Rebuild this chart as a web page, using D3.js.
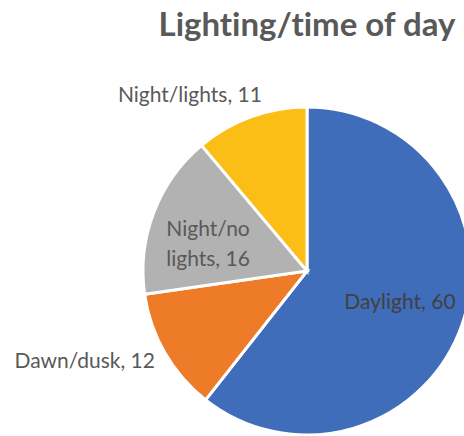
<!DOCTYPE html>
<html>
<head>
<meta charset="utf-8">
<script src="https://cdn.jsdelivr.net/npm/d3@7"></script>
<style>
  html, body { margin: 0; padding: 0; background: #fff; }
  svg { display: block; }
  text { font-variant-ligatures: none; font-feature-settings: "liga" 0, "clig" 0; }
</style>
</head>
<body>
<svg id="chart" width="464" height="436"></svg>
<script>
// chart data
const categories = ['Daylight', 'Dawn/dusk', 'Night/no lights', 'Night/lights'];
const values = [60, 12, 16, 11];
const colors = ['#3F6DBA', '#EE7B28', '#B2B2B2', '#FBBE17'];
const title = 'Lighting/time of day';

const svg = d3.select('#chart');
const width = +svg.attr('width');
const height = +svg.attr('height');

const cx = 307, cy = 271;
const radius = 164;
const font = "Lato, 'Open Sans', sans-serif";

svg.append('text')
  .attr('x', 307)
  .attr('y', 36)
  .attr('text-anchor', 'middle')
  .attr('font-family', font)
  .attr('font-weight', 'bold')
  .attr('font-size', 33)
  .attr('fill', '#595959')
  .text(title);

const pie = d3.pie().sort(null).value(d => d);
const arcs = pie(values);
const arc = d3.arc().innerRadius(0).outerRadius(radius);

const g = svg.append('g').attr('transform', 'translate(' + cx + ',' + cy + ')');

g.selectAll('path').data(arcs)
  .enter()
  .append('path')
  .attr('d', arc)
  .attr('fill', (d, i) => colors[i])
  .attr('stroke', '#fff')
  .attr('stroke-width', 3)
  .attr('stroke-linejoin', 'miter');

// label placement: radius factor, nudges, anchor, line split
const labelSpec = [
  { r: 0.6, dx: 0, dy: 6, anchor: 'middle', lines: [categories[0] + ', ' + values[0]], fill: '#404040' },
  { r: 1.0, dx: -10, dy: 15, anchor: 'end', lines: [categories[1] + ', ' + values[1]], fill: '#595959' },
  { r: 0.62, dx: -4, dy: 1, anchor: 'middle', lines: ['Night/no', 'lights, ' + values[2]], fill: '#595959' },
  { r: 1.0, dx: -61, dy: -15, anchor: 'middle', lines: [categories[3] + ', ' + values[3]], fill: '#595959' }
];

arcs.forEach((d, i) => {
  const s = labelSpec[i];
  const mid = (d.startAngle + d.endAngle) / 2;
  const x = Math.sin(mid) * radius * s.r + s.dx;
  const y = -Math.cos(mid) * radius * s.r + s.dy;
  const t = g.append('text')
    .attr('x', x)
    .attr('y', y)
    .attr('text-anchor', s.anchor)
    .attr('font-family', font)
    .attr('font-size', 21)
    .attr('fill', s.fill);
  s.lines.forEach((ln, k) => {
    t.append('tspan').attr('x', x).attr('dy', k === 0 ? 0 : 30).text(ln);
  });
});
</script>
</body>
</html>
